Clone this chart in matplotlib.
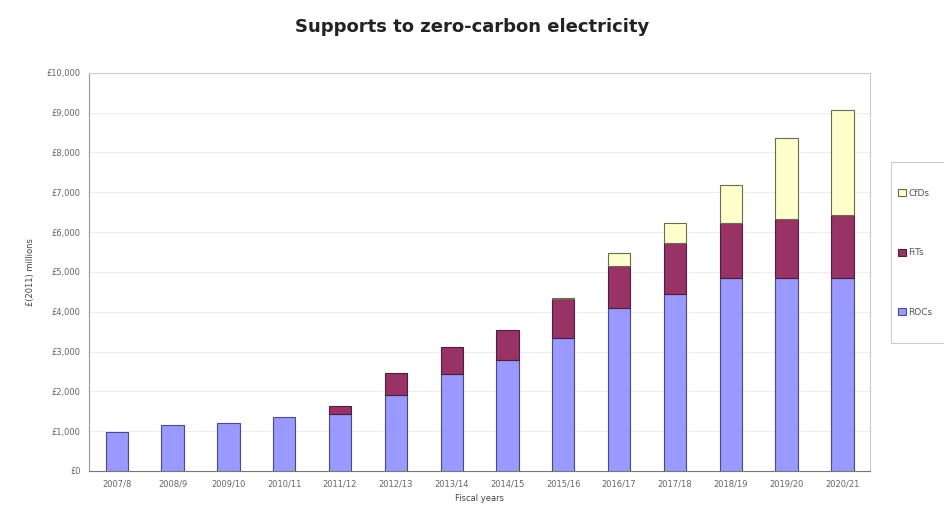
import matplotlib.pyplot as plt
from matplotlib.ticker import FuncFormatter
from matplotlib.patches import Rectangle

years = ["2007/8", "2008/9", "2009/10", "2010/11", "2011/12", "2012/13", "2013/14",
         "2014/15", "2015/16", "2016/17", "2017/18", "2018/19", "2019/20", "2020/21"]
rocs = [990, 1160, 1210, 1360, 1430, 1910, 2430, 2790, 3330, 4090, 4440, 4840, 4840, 4840]
fits = [0, 0, 0, 0, 190, 550, 690, 750, 980, 1070, 1280, 1380, 1480, 1590]
cfds = [0, 0, 0, 0, 0, 0, 0, 0, 30, 310, 500, 970, 2040, 2640]

fig = plt.figure(figsize=(9.45, 5.13), dpi=100)
ax = fig.add_axes([0.094, 0.082, 0.827, 0.776])

x = range(len(years))
w = 0.4
def lw(vals):
    return [0.8 if v > 0 else 0 for v in vals]

styles = {"ROCs": ("#9999FF", "#4a4a8a"), "FiTs": ("#993366", "#4a2040"), "CfDs": ("#FFFFCC", "#6b6b50")}

ax.bar(x, rocs, w, color=styles["ROCs"][0], edgecolor=styles["ROCs"][1], linewidth=lw(rocs), zorder=3)
ax.bar(x, fits, w, bottom=rocs, color=styles["FiTs"][0], edgecolor=styles["FiTs"][1], linewidth=lw(fits), zorder=3)
bottom2 = [r + f for r, f in zip(rocs, fits)]
ax.bar(x, cfds, w, bottom=bottom2, color=styles["CfDs"][0], edgecolor=styles["CfDs"][1], linewidth=lw(cfds), zorder=3)

ax.set_xlim(-0.5, len(years) - 0.5)
ax.set_ylim(0, 10000)
ax.set_yticks(range(0, 10001, 1000))
ax.yaxis.set_major_formatter(FuncFormatter(lambda v, p: "£{:,.0f}".format(v)))
ax.set_xticks(list(x))
ax.set_xticklabels(years)
ax.tick_params(axis="both", labelsize=6, colors="#666666", length=0, pad=6)
ax.grid(axis="y", color="#eeeeee", linewidth=0.8, zorder=0)
for s in ax.spines.values():
    s.set_color("#cccccc")
ax.spines["left"].set_color("#999999")
ax.spines["bottom"].set_color("#777777")

ax.set_xlabel("Fiscal years", fontsize=6, color="#444444")
ax.set_ylabel("£(2011) millions", fontsize=6, color="#444444", labelpad=8)
fig.suptitle("Supports to zero-carbon electricity", fontsize=13, fontweight="semibold",
             color="#222222", y=0.965, x=0.5)

# legend frame drawn separately so it can be tall and narrow
fig.patches.append(Rectangle((891 / 945, 1 - 343 / 513), 0.07, 181 / 513,
                             transform=fig.transFigure, facecolor="white",
                             edgecolor="#cccccc", linewidth=0.8))
names = ["CfDs", "FiTs", "ROCs"]
handles = [Rectangle((0, 0), 1, 1, facecolor=styles[n][0], edgecolor=styles[n][1], linewidth=0.8)
           for n in names]
leg = fig.legend(handles=handles, labels=names,
                 loc="center left", bbox_to_anchor=(0.943, 1 - 253 / 513), fontsize=6.5,
                 frameon=False, handlelength=0.8, handleheight=0.8,
                 labelspacing=5.6, borderpad=0.3, handletextpad=0.3, labelcolor="#555555")

fig.savefig("out.png", dpi=100)
